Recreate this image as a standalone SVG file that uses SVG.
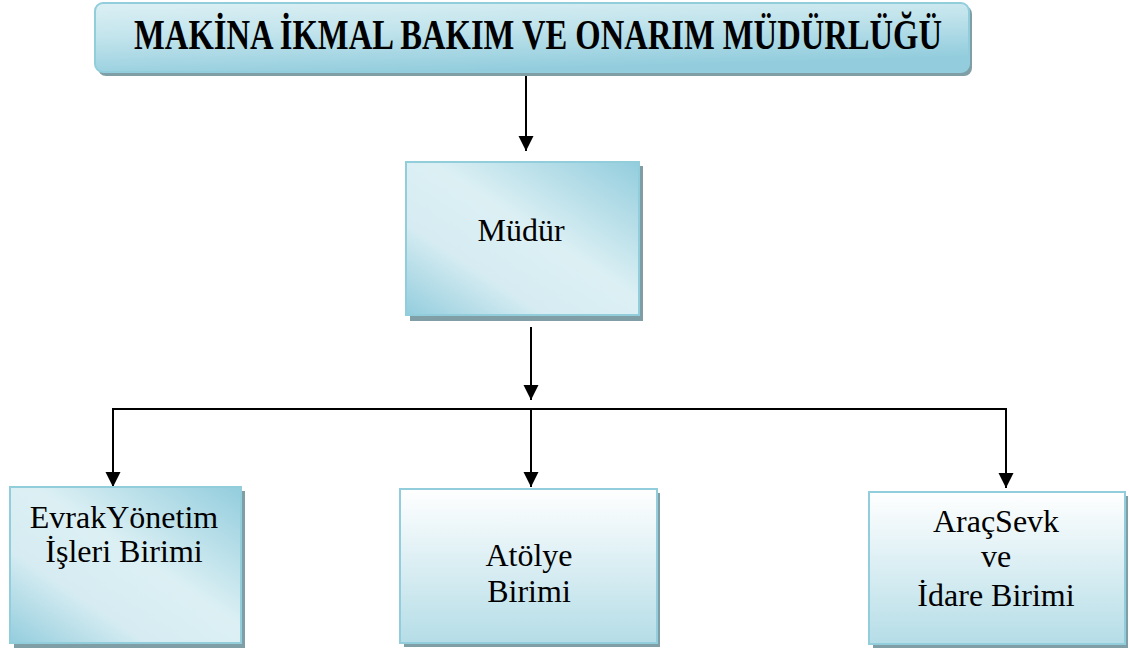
<svg xmlns="http://www.w3.org/2000/svg" width="1129" height="651" viewBox="0 0 1129 651">
  <defs>
    <linearGradient id="diag" x1="0" y1="1" x2="1" y2="0">
      <stop offset="0" stop-color="#93cddd"/>
      <stop offset="0.3" stop-color="#d6ecf2"/>
      <stop offset="0.55" stop-color="#dcf0f4"/>
      <stop offset="1" stop-color="#93cddd"/>
    </linearGradient>
    <linearGradient id="title" x1="0" y1="0" x2="0.35" y2="1">
      <stop offset="0" stop-color="#dcf0f4"/>
      <stop offset="0.45" stop-color="#c2e4ec"/>
      <stop offset="1" stop-color="#93cddd"/>
    </linearGradient>
    <linearGradient id="vert" x1="0" y1="0" x2="0" y2="1">
      <stop offset="0" stop-color="#ffffff"/>
      <stop offset="1" stop-color="#b5dde7"/>
    </linearGradient>
    <marker id="ah" markerUnits="userSpaceOnUse" markerWidth="16" markerHeight="16" refX="15" refY="7.5" orient="auto">
      <path d="M0,0 L15,7.5 L0,15 z" fill="#000"/>
    </marker>
  </defs>
  <style>
    .shadow { fill: #7f9ea6; }
    .box { stroke: #92cddc; stroke-width: 2; }
    .t { font-family: 'Liberation Serif', 'Times New Roman', serif; font-size: 32px; fill: #000; text-anchor: middle; }
    .title { font-family: 'Liberation Serif', 'Times New Roman', serif; font-size: 32.6px; font-weight: bold; fill: #000; text-anchor: middle; }
    .c { stroke: #000; stroke-width: 2; fill: none; }
  </style>
  <rect width="1129" height="651" fill="#fff"/>

  <g id="connectors">
    <line class="c" x1="526" y1="75" x2="526" y2="151" marker-end="url(#ah)"/>
    <line class="c" x1="531" y1="327" x2="531" y2="400" marker-end="url(#ah)"/>
    <polyline class="c" points="113,487 113,409 1006,409 1006,488"/>
    <line class="c" x1="113" y1="420" x2="113" y2="487" marker-end="url(#ah)"/>
    <line class="c" x1="531" y1="409" x2="531" y2="487" marker-end="url(#ah)"/>
    <line class="c" x1="1006" y1="420" x2="1006" y2="488" marker-end="url(#ah)"/>
  </g>

  <g id="node-title">
    <rect class="shadow" x="98" y="6" width="874" height="70" rx="8"/>
    <rect class="box" x="95" y="3" width="874" height="69" rx="8" fill="url(#title)"/>
    <text class="title" transform="translate(538,49) scale(1,1.3)" x="0" y="0">MAKİNA İKMAL BAKIM VE ONARIM MÜDÜRLÜĞÜ</text>
  </g>

  <g id="node-mudur">
    <rect class="shadow" x="410" y="166" width="233" height="155"/>
    <rect class="box" x="406" y="162" width="233" height="153" fill="url(#diag)"/>
    <text class="t" x="521" y="241">Müdür</text>
  </g>

  <g id="node-evrak">
    <rect class="shadow" x="14" y="491" width="231" height="157"/>
    <rect class="box" x="10" y="487" width="231" height="156" fill="url(#diag)"/>
    <text class="t" x="124" y="528">EvrakYönetim</text>
    <text class="t" x="124" y="562">İşleri Birimi</text>
  </g>

  <g id="node-atolye">
    <rect class="shadow" x="404" y="493" width="256" height="154"/>
    <rect class="box" x="400" y="489" width="257" height="154" fill="url(#vert)"/>
    <text class="t" x="529" y="566">Atölye</text>
    <text class="t" x="529" y="602">Birimi</text>
  </g>

  <g id="node-arac">
    <rect class="shadow" x="873" y="496" width="255" height="152"/>
    <rect class="box" x="869" y="492" width="256" height="152" fill="url(#vert)"/>
    <text class="t" x="996" y="532">AraçSevk</text>
    <text class="t" x="996" y="567">ve</text>
    <text class="t" x="996" y="606">İdare Birimi</text>
  </g>
</svg>
